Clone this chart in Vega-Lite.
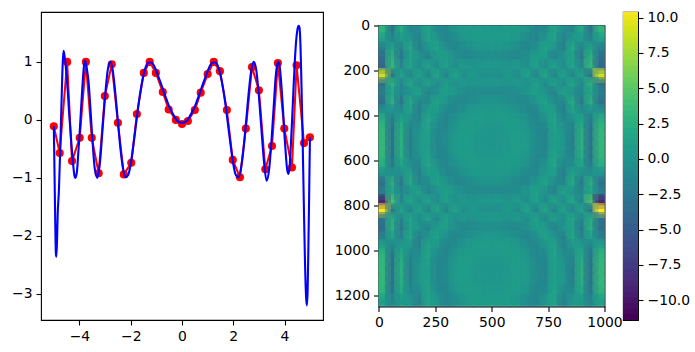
{"$schema":"https://vega.github.io/schema/vega-lite/v6.json","background":"white","padding":{"left":10,"top":10,"right":0,"bottom":0},"spacing":-16,"bounds":"full",
"config":{"view":{"stroke":"black","strokeWidth":1.1},"axis":{"grid":false,"title":null,"domain":false,"tickColor":"black","tickSize":5,"tickWidth":1.1,"labelColor":"black","labelFont":"DejaVu Sans","labelFontSize":13.9,"labelPadding":4,"labelFlush":false,"labelOverlap":false}},
"datasets":{"pts":[{"x":-5,"y":-0.11},{"x":-4.77,"y":-0.57},{"x":-4.48,"y":1},{"x":-4.29,"y":-0.71},{"x":-3.99,"y":-0.31},{"x":-3.75,"y":1},{"x":-3.52,"y":-0.31},{"x":-3.25,"y":-0.92},{"x":-3.01,"y":0.41},{"x":-2.74,"y":0.96},{"x":-2.5,"y":-0.05},{"x":-2.27,"y":-0.94},{"x":-1.98,"y":-0.74},{"x":-1.76,"y":0.1},{"x":-1.49,"y":0.81},{"x":-1.26,"y":1},{"x":-1.02,"y":0.81},{"x":-0.75,"y":0.48},{"x":-0.52,"y":0.18},{"x":-0.24,"y":0},{"x":0,"y":-0.07},{"x":0.23,"y":-0.02},{"x":0.5,"y":0.17},{"x":0.73,"y":0.47},{"x":1,"y":0.79},{"x":1.24,"y":1},{"x":1.48,"y":0.84},{"x":1.75,"y":0.17},{"x":1.98,"y":-0.69},{"x":2.26,"y":-0.99},{"x":2.49,"y":-0.15},{"x":2.73,"y":0.91},{"x":3,"y":0.51},{"x":3.25,"y":-0.85},{"x":3.51,"y":-0.45},{"x":3.74,"y":0.98},{"x":3.99,"y":-0.15},{"x":4.29,"y":-0.82},{"x":4.47,"y":0.94},{"x":4.76,"y":-0.4},{"x":4.99,"y":-0.3}],
"spline":[{"x":-5,"y":-0.11},{"x":-4.97,"y":-1},{"x":-4.95,"y":-1.6},{"x":-4.92,"y":-2.3},{"x":-4.9,"y":-2.36},{"x":-4.87,"y":-2},{"x":-4.85,"y":-1.65},{"x":-4.8,"y":-1.2},{"x":-4.75,"y":-0.5},{"x":-4.7,"y":0.3},{"x":-4.65,"y":1},{"x":-4.62,"y":1.19},{"x":-4.58,"y":1.1},{"x":-4.55,"y":1},{"x":-4.5,"y":0.75},{"x":-4.45,"y":0.45},{"x":-4.4,"y":0.1},{"x":-4.35,"y":-0.2},{"x":-4.3,"y":-0.5},{"x":-4.25,"y":-0.75},{"x":-4.2,"y":-0.95},{"x":-4.16,"y":-1},{"x":-4.1,"y":-0.9},{"x":-4.05,"y":-0.6},{"x":-4,"y":-0.28},{"x":-3.95,"y":0.1},{"x":-3.9,"y":0.47},{"x":-3.85,"y":0.8},{"x":-3.8,"y":1.02},{"x":-3.75,"y":0.97},{"x":-3.7,"y":0.85},{"x":-3.65,"y":0.68},{"x":-3.6,"y":0.39},{"x":-3.55,"y":0.04},{"x":-3.5,"y":-0.3},{"x":-3.4,"y":-0.85},{"x":-3.3,"y":-1},{"x":-3.2,"y":-0.73},{"x":-3.1,"y":-0.17},{"x":-3,"y":0.41},{"x":-2.9,"y":0.85},{"x":-2.8,"y":1},{"x":-2.7,"y":0.85},{"x":-2.6,"y":0.46},{"x":-2.5,"y":-0.03},{"x":-2.4,"y":-0.5},{"x":-2.3,"y":-0.84},{"x":-2.2,"y":-0.99},{"x":-2.1,"y":-0.95},{"x":-2,"y":-0.76},{"x":-1.9,"y":-0.45},{"x":-1.8,"y":-0.1},{"x":-1.7,"y":0.25},{"x":-1.6,"y":0.55},{"x":-1.5,"y":0.78},{"x":-1.4,"y":0.93},{"x":-1.3,"y":0.99},{"x":-1.2,"y":0.99},{"x":-1.1,"y":0.94},{"x":-1,"y":0.84},{"x":-0.9,"y":0.72},{"x":-0.8,"y":0.6},{"x":-0.7,"y":0.47},{"x":-0.6,"y":0.35},{"x":-0.5,"y":0.23},{"x":-0.4,"y":0.14},{"x":-0.3,"y":0.06},{"x":-0.2,"y":-0.01},{"x":-0.1,"y":-0.04},{"x":0,"y":-0.05},{"x":0.1,"y":-0.04},{"x":0.2,"y":-0.01},{"x":0.3,"y":0.06},{"x":0.4,"y":0.14},{"x":0.5,"y":0.23},{"x":0.6,"y":0.35},{"x":0.7,"y":0.47},{"x":0.8,"y":0.6},{"x":0.9,"y":0.72},{"x":1,"y":0.84},{"x":1.1,"y":0.94},{"x":1.2,"y":0.99},{"x":1.3,"y":0.99},{"x":1.4,"y":0.93},{"x":1.5,"y":0.78},{"x":1.6,"y":0.55},{"x":1.7,"y":0.25},{"x":1.8,"y":-0.1},{"x":1.9,"y":-0.45},{"x":2,"y":-0.76},{"x":2.1,"y":-0.95},{"x":2.2,"y":-0.99},{"x":2.3,"y":-0.84},{"x":2.4,"y":-0.5},{"x":2.5,"y":-0.03},{"x":2.6,"y":0.46},{"x":2.7,"y":0.85},{"x":2.8,"y":1},{"x":2.9,"y":0.85},{"x":3,"y":0.41},{"x":3.1,"y":-0.17},{"x":3.2,"y":-0.73},{"x":3.3,"y":-1.05},{"x":3.4,"y":-0.85},{"x":3.5,"y":-0.3},{"x":3.6,"y":0.39},{"x":3.65,"y":0.72},{"x":3.7,"y":0.92},{"x":3.75,"y":1},{"x":3.8,"y":0.95},{"x":3.85,"y":0.75},{"x":3.9,"y":0.45},{"x":3.95,"y":0.1},{"x":4,"y":-0.28},{"x":4.05,"y":-0.6},{"x":4.1,"y":-0.85},{"x":4.15,"y":-0.93},{"x":4.2,"y":-0.8},{"x":4.25,"y":-0.4},{"x":4.3,"y":0.05},{"x":4.35,"y":0.55},{"x":4.4,"y":1},{"x":4.45,"y":1.35},{"x":4.5,"y":1.55},{"x":4.55,"y":1.62},{"x":4.58,"y":1.6},{"x":4.62,"y":1.3},{"x":4.65,"y":0.8},{"x":4.7,"y":-0.2},{"x":4.75,"y":-1.4},{"x":4.8,"y":-2.5},{"x":4.84,"y":-3.05},{"x":4.87,"y":-3.2},{"x":4.9,"y":-2.95},{"x":4.93,"y":-2.2},{"x":4.96,"y":-1.3},{"x":4.99,"y":-0.3}],
"cb":[{"v":-11.4,"w":-10.8},{"v":-11,"w":-10.4},{"v":-10.6,"w":-10},{"v":-10.2,"w":-9.6},{"v":-9.8,"w":-9.2},{"v":-9.4,"w":-8.8},{"v":-9,"w":-8.4},{"v":-8.6,"w":-8},{"v":-8.2,"w":-7.6},{"v":-7.8,"w":-7.2},{"v":-7.4,"w":-6.8},{"v":-7,"w":-6.4},{"v":-6.6,"w":-6},{"v":-6.2,"w":-5.6},{"v":-5.8,"w":-5.2},{"v":-5.4,"w":-4.8},{"v":-5,"w":-4.4},{"v":-4.6,"w":-4},{"v":-4.2,"w":-3.6},{"v":-3.8,"w":-3.2},{"v":-3.4,"w":-2.8},{"v":-3,"w":-2.4},{"v":-2.6,"w":-2},{"v":-2.2,"w":-1.6},{"v":-1.8,"w":-1.2},{"v":-1.4,"w":-0.8},{"v":-1,"w":-0.4},{"v":-0.6,"w":0},{"v":-0.2,"w":0.4},{"v":0.2,"w":0.8},{"v":0.6,"w":1.2},{"v":1,"w":1.6},{"v":1.4,"w":2},{"v":1.8,"w":2.4},{"v":2.2,"w":2.8},{"v":2.6,"w":3.2},{"v":3,"w":3.6},{"v":3.4,"w":4},{"v":3.8,"w":4.4},{"v":4.2,"w":4.8},{"v":4.6,"w":5.2},{"v":5,"w":5.6},{"v":5.4,"w":6},{"v":5.8,"w":6.4},{"v":6.2,"w":6.8},{"v":6.6,"w":7.2},{"v":7,"w":7.6},{"v":7.4,"w":8},{"v":7.8,"w":8.4},{"v":8.2,"w":8.8},{"v":8.6,"w":9.2},{"v":9,"w":9.6},{"v":9.4,"w":10},{"v":9.8,"w":10.4},{"v":10.2,"w":10.4}],
"img":[
{"x":20,"y":20,"v":2.7},{"x":60,"y":20,"v":-3},{"x":100,"y":20,"v":1.8},{"x":140,"y":20,"v":-1.3},{"x":180,"y":20,"v":-0.9},{"x":220,"y":20,"v":1.3},{"x":260,"y":20,"v":-1},{"x":300,"y":20,"v":-1.4},{"x":340,"y":20,"v":-0.1},{"x":380,"y":20,"v":0.6},{"x":420,"y":20,"v":0.5},{"x":460,"y":20,"v":0.3},{"x":500,"y":20,"v":0.3},{"x":540,"y":20,"v":0.3},{"x":580,"y":20,"v":0.5},{"x":620,"y":20,"v":0.6},{"x":660,"y":20,"v":-0.1},{"x":700,"y":20,"v":-1.4},{"x":740,"y":20,"v":-1},{"x":780,"y":20,"v":1.3},{"x":820,"y":20,"v":-0.9},{"x":860,"y":20,"v":-1.3},{"x":900,"y":20,"v":1.8},{"x":940,"y":20,"v":-3},{"x":980,"y":20,"v":2.7},
{"x":20,"y":60,"v":1},{"x":60,"y":60,"v":-1.6},{"x":100,"y":60,"v":0.4},{"x":140,"y":60,"v":0.2},{"x":180,"y":60,"v":-1.9},{"x":220,"y":60,"v":1.2},{"x":260,"y":60,"v":0},{"x":300,"y":60,"v":-1.5},{"x":340,"y":60,"v":-0.9},{"x":380,"y":60,"v":0.1},{"x":420,"y":60,"v":0.5},{"x":460,"y":60,"v":0.5},{"x":500,"y":60,"v":0.5},{"x":540,"y":60,"v":0.5},{"x":580,"y":60,"v":0.5},{"x":620,"y":60,"v":0.1},{"x":660,"y":60,"v":-0.9},{"x":700,"y":60,"v":-1.5},{"x":740,"y":60,"v":0},{"x":780,"y":60,"v":1.2},{"x":820,"y":60,"v":-1.9},{"x":860,"y":60,"v":0.2},{"x":900,"y":60,"v":0.4},{"x":940,"y":60,"v":-1.6},{"x":980,"y":60,"v":1},
{"x":20,"y":100,"v":-2},{"x":60,"y":100,"v":1.1},{"x":100,"y":100,"v":-1.9},{"x":140,"y":100,"v":1.7},{"x":180,"y":100,"v":-2.1},{"x":220,"y":100,"v":-0.1},{"x":260,"y":100,"v":1},{"x":300,"y":100,"v":-0.7},{"x":340,"y":100,"v":-1.4},{"x":380,"y":100,"v":-0.8},{"x":420,"y":100,"v":-0.2},{"x":460,"y":100,"v":0.1},{"x":500,"y":100,"v":0.2},{"x":540,"y":100,"v":0.1},{"x":580,"y":100,"v":-0.2},{"x":620,"y":100,"v":-0.8},{"x":660,"y":100,"v":-1.4},{"x":700,"y":100,"v":-0.7},{"x":740,"y":100,"v":1},{"x":780,"y":100,"v":-0.1},{"x":820,"y":100,"v":-2.1},{"x":860,"y":100,"v":1.7},{"x":900,"y":100,"v":-1.9},{"x":940,"y":100,"v":1.1},{"x":980,"y":100,"v":-2},
{"x":20,"y":140,"v":-3.5},{"x":60,"y":140,"v":2.5},{"x":100,"y":140,"v":-2.7},{"x":140,"y":140,"v":1.1},{"x":180,"y":140,"v":-0.1},{"x":220,"y":140,"v":-1.8},{"x":260,"y":140,"v":0.6},{"x":300,"y":140,"v":0.7},{"x":340,"y":140,"v":-0.7},{"x":380,"y":140,"v":-1.2},{"x":420,"y":140,"v":-1.1},{"x":460,"y":140,"v":-0.8},{"x":500,"y":140,"v":-0.7},{"x":540,"y":140,"v":-0.8},{"x":580,"y":140,"v":-1.1},{"x":620,"y":140,"v":-1.2},{"x":660,"y":140,"v":-0.7},{"x":700,"y":140,"v":0.7},{"x":740,"y":140,"v":0.6},{"x":780,"y":140,"v":-1.8},{"x":820,"y":140,"v":-0.1},{"x":860,"y":140,"v":1.1},{"x":900,"y":140,"v":-2.7},{"x":940,"y":140,"v":2.5},{"x":980,"y":140,"v":-3.5},
{"x":20,"y":180,"v":-4},{"x":60,"y":180,"v":3},{"x":100,"y":180,"v":-1.5},{"x":140,"y":180,"v":1.4},{"x":180,"y":180,"v":-1},{"x":220,"y":180,"v":1.2},{"x":260,"y":180,"v":-1},{"x":300,"y":180,"v":1},{"x":340,"y":180,"v":-0.8},{"x":380,"y":180,"v":0.5},{"x":420,"y":180,"v":-0.2},{"x":460,"y":180,"v":0.2},{"x":500,"y":180,"v":0.1},{"x":540,"y":180,"v":0.2},{"x":580,"y":180,"v":-0.2},{"x":620,"y":180,"v":0.5},{"x":660,"y":180,"v":-0.8},{"x":700,"y":180,"v":1},{"x":740,"y":180,"v":-1},{"x":780,"y":180,"v":1.2},{"x":820,"y":180,"v":-1},{"x":860,"y":180,"v":1.4},{"x":900,"y":180,"v":-1.5},{"x":940,"y":180,"v":3},{"x":980,"y":180,"v":-4},
{"x":20,"y":220,"v":8.8},{"x":60,"y":220,"v":-3},{"x":100,"y":220,"v":1.2},{"x":140,"y":220,"v":-1.5},{"x":180,"y":220,"v":1},{"x":220,"y":220,"v":-1.5},{"x":260,"y":220,"v":1.5},{"x":300,"y":220,"v":-1.5},{"x":340,"y":220,"v":1.2},{"x":380,"y":220,"v":-0.8},{"x":420,"y":220,"v":0.4},{"x":460,"y":220,"v":-0.6},{"x":500,"y":220,"v":-0.3},{"x":540,"y":220,"v":-0.6},{"x":580,"y":220,"v":0.4},{"x":620,"y":220,"v":-0.8},{"x":660,"y":220,"v":1.2},{"x":700,"y":220,"v":-1.5},{"x":740,"y":220,"v":1.5},{"x":780,"y":220,"v":-1.5},{"x":820,"y":220,"v":1},{"x":860,"y":220,"v":-1.5},{"x":900,"y":220,"v":1.2},{"x":940,"y":220,"v":-3},{"x":980,"y":220,"v":8.8},
{"x":20,"y":260,"v":-3},{"x":60,"y":260,"v":2.5},{"x":100,"y":260,"v":-1.5},{"x":140,"y":260,"v":1.4},{"x":180,"y":260,"v":-1},{"x":220,"y":260,"v":1},{"x":260,"y":260,"v":-1},{"x":300,"y":260,"v":0.8},{"x":340,"y":260,"v":-0.6},{"x":380,"y":260,"v":0.3},{"x":420,"y":260,"v":-0.3},{"x":460,"y":260,"v":0.1},{"x":500,"y":260,"v":0},{"x":540,"y":260,"v":0.1},{"x":580,"y":260,"v":-0.3},{"x":620,"y":260,"v":0.3},{"x":660,"y":260,"v":-0.6},{"x":700,"y":260,"v":0.8},{"x":740,"y":260,"v":-1},{"x":780,"y":260,"v":1},{"x":820,"y":260,"v":-1},{"x":860,"y":260,"v":1.4},{"x":900,"y":260,"v":-1.5},{"x":940,"y":260,"v":2.5},{"x":980,"y":260,"v":-3},
{"x":20,"y":300,"v":-2.1},{"x":60,"y":300,"v":1.5},{"x":100,"y":300,"v":-1.4},{"x":140,"y":300,"v":-0.4},{"x":180,"y":300,"v":1.1},{"x":220,"y":300,"v":-1.9},{"x":260,"y":300,"v":-0.4},{"x":300,"y":300,"v":0.9},{"x":340,"y":300,"v":0.1},{"x":380,"y":300,"v":-0.8},{"x":420,"y":300,"v":-1.1},{"x":460,"y":300,"v":-1.1},{"x":500,"y":300,"v":-1.1},{"x":540,"y":300,"v":-1.1},{"x":580,"y":300,"v":-1.1},{"x":620,"y":300,"v":-0.8},{"x":660,"y":300,"v":0.1},{"x":700,"y":300,"v":0.9},{"x":740,"y":300,"v":-0.4},{"x":780,"y":300,"v":-1.9},{"x":820,"y":300,"v":1.1},{"x":860,"y":300,"v":-0.4},{"x":900,"y":300,"v":-1.4},{"x":940,"y":300,"v":1.5},{"x":980,"y":300,"v":-2.1},
{"x":20,"y":340,"v":-3.3},{"x":60,"y":340,"v":2.3},{"x":100,"y":340,"v":-2.8},{"x":140,"y":340,"v":1.9},{"x":180,"y":340,"v":-1.4},{"x":220,"y":340,"v":-1},{"x":260,"y":340,"v":1.1},{"x":300,"y":340,"v":0},{"x":340,"y":340,"v":-1.2},{"x":380,"y":340,"v":-1.2},{"x":420,"y":340,"v":-0.7},{"x":460,"y":340,"v":-0.3},{"x":500,"y":340,"v":-0.2},{"x":540,"y":340,"v":-0.3},{"x":580,"y":340,"v":-0.7},{"x":620,"y":340,"v":-1.2},{"x":660,"y":340,"v":-1.2},{"x":700,"y":340,"v":0},{"x":740,"y":340,"v":1.1},{"x":780,"y":340,"v":-1},{"x":820,"y":340,"v":-1.4},{"x":860,"y":340,"v":1.9},{"x":900,"y":340,"v":-2.8},{"x":940,"y":340,"v":2.3},{"x":980,"y":340,"v":-3.3},
{"x":20,"y":380,"v":-0.4},{"x":60,"y":380,"v":-0.4},{"x":100,"y":380,"v":-0.8},{"x":140,"y":380,"v":1.1},{"x":180,"y":380,"v":-2.2},{"x":220,"y":380,"v":0.7},{"x":260,"y":380,"v":0.6},{"x":300,"y":380,"v":-1.2},{"x":340,"y":380,"v":-1.2},{"x":380,"y":380,"v":-0.3},{"x":420,"y":380,"v":0.2},{"x":460,"y":380,"v":0.4},{"x":500,"y":380,"v":0.4},{"x":540,"y":380,"v":0.4},{"x":580,"y":380,"v":0.2},{"x":620,"y":380,"v":-0.3},{"x":660,"y":380,"v":-1.2},{"x":700,"y":380,"v":-1.2},{"x":740,"y":380,"v":0.6},{"x":780,"y":380,"v":0.7},{"x":820,"y":380,"v":-2.2},{"x":860,"y":380,"v":1.1},{"x":900,"y":380,"v":-0.8},{"x":940,"y":380,"v":-0.4},{"x":980,"y":380,"v":-0.4},
{"x":20,"y":420,"v":2.1},{"x":60,"y":420,"v":-2.5},{"x":100,"y":420,"v":1.3},{"x":140,"y":420,"v":-0.7},{"x":180,"y":420,"v":-1.4},{"x":220,"y":420,"v":1.4},{"x":260,"y":420,"v":-0.5},{"x":300,"y":420,"v":-1.5},{"x":340,"y":420,"v":-0.5},{"x":380,"y":420,"v":0.4},{"x":420,"y":420,"v":0.6},{"x":460,"y":420,"v":0.5},{"x":500,"y":420,"v":0.4},{"x":540,"y":420,"v":0.5},{"x":580,"y":420,"v":0.6},{"x":620,"y":420,"v":0.4},{"x":660,"y":420,"v":-0.5},{"x":700,"y":420,"v":-1.5},{"x":740,"y":420,"v":-0.5},{"x":780,"y":420,"v":1.4},{"x":820,"y":420,"v":-1.4},{"x":860,"y":420,"v":-0.7},{"x":900,"y":420,"v":1.3},{"x":940,"y":420,"v":-2.5},{"x":980,"y":420,"v":2.1},
{"x":20,"y":460,"v":2.9},{"x":60,"y":460,"v":-3.2},{"x":100,"y":460,"v":2.1},{"x":140,"y":460,"v":-1.8},{"x":180,"y":460,"v":-0.4},{"x":220,"y":460,"v":1.2},{"x":260,"y":460,"v":-1.3},{"x":300,"y":460,"v":-1.2},{"x":340,"y":460,"v":0.1},{"x":380,"y":460,"v":0.6},{"x":420,"y":460,"v":0.5},{"x":460,"y":460,"v":0.2},{"x":500,"y":460,"v":0.1},{"x":540,"y":460,"v":0.2},{"x":580,"y":460,"v":0.5},{"x":620,"y":460,"v":0.6},{"x":660,"y":460,"v":0.1},{"x":700,"y":460,"v":-1.2},{"x":740,"y":460,"v":-1.3},{"x":780,"y":460,"v":1.2},{"x":820,"y":460,"v":-0.4},{"x":860,"y":460,"v":-1.8},{"x":900,"y":460,"v":2.1},{"x":940,"y":460,"v":-3.2},{"x":980,"y":460,"v":2.9},
{"x":20,"y":500,"v":3},{"x":60,"y":500,"v":-3.2},{"x":100,"y":500,"v":2.3},{"x":140,"y":500,"v":-2.2},{"x":180,"y":500,"v":0.2},{"x":220,"y":500,"v":0.9},{"x":260,"y":500,"v":-1.5},{"x":300,"y":500,"v":-1},{"x":340,"y":500,"v":0.4},{"x":380,"y":500,"v":0.7},{"x":420,"y":500,"v":0.3},{"x":460,"y":500,"v":0},{"x":500,"y":500,"v":-0.1},{"x":540,"y":500,"v":0},{"x":580,"y":500,"v":0.3},{"x":620,"y":500,"v":0.7},{"x":660,"y":500,"v":0.4},{"x":700,"y":500,"v":-1},{"x":740,"y":500,"v":-1.5},{"x":780,"y":500,"v":0.9},{"x":820,"y":500,"v":0.2},{"x":860,"y":500,"v":-2.2},{"x":900,"y":500,"v":2.3},{"x":940,"y":500,"v":-3.2},{"x":980,"y":500,"v":3},
{"x":20,"y":540,"v":3},{"x":60,"y":540,"v":-3.2},{"x":100,"y":540,"v":2.3},{"x":140,"y":540,"v":-2.2},{"x":180,"y":540,"v":0.2},{"x":220,"y":540,"v":0.9},{"x":260,"y":540,"v":-1.5},{"x":300,"y":540,"v":-1},{"x":340,"y":540,"v":0.4},{"x":380,"y":540,"v":0.7},{"x":420,"y":540,"v":0.3},{"x":460,"y":540,"v":0},{"x":500,"y":540,"v":-0.1},{"x":540,"y":540,"v":0},{"x":580,"y":540,"v":0.3},{"x":620,"y":540,"v":0.7},{"x":660,"y":540,"v":0.4},{"x":700,"y":540,"v":-1},{"x":740,"y":540,"v":-1.5},{"x":780,"y":540,"v":0.9},{"x":820,"y":540,"v":0.2},{"x":860,"y":540,"v":-2.2},{"x":900,"y":540,"v":2.3},{"x":940,"y":540,"v":-3.2},{"x":980,"y":540,"v":3},
{"x":20,"y":580,"v":2.9},{"x":60,"y":580,"v":-3.2},{"x":100,"y":580,"v":2.1},{"x":140,"y":580,"v":-1.8},{"x":180,"y":580,"v":-0.4},{"x":220,"y":580,"v":1.2},{"x":260,"y":580,"v":-1.3},{"x":300,"y":580,"v":-1.2},{"x":340,"y":580,"v":0.1},{"x":380,"y":580,"v":0.6},{"x":420,"y":580,"v":0.5},{"x":460,"y":580,"v":0.2},{"x":500,"y":580,"v":0.1},{"x":540,"y":580,"v":0.2},{"x":580,"y":580,"v":0.5},{"x":620,"y":580,"v":0.6},{"x":660,"y":580,"v":0.1},{"x":700,"y":580,"v":-1.2},{"x":740,"y":580,"v":-1.3},{"x":780,"y":580,"v":1.2},{"x":820,"y":580,"v":-0.4},{"x":860,"y":580,"v":-1.8},{"x":900,"y":580,"v":2.1},{"x":940,"y":580,"v":-3.2},{"x":980,"y":580,"v":2.9},
{"x":20,"y":620,"v":2.1},{"x":60,"y":620,"v":-2.5},{"x":100,"y":620,"v":1.3},{"x":140,"y":620,"v":-0.7},{"x":180,"y":620,"v":-1.4},{"x":220,"y":620,"v":1.4},{"x":260,"y":620,"v":-0.5},{"x":300,"y":620,"v":-1.5},{"x":340,"y":620,"v":-0.5},{"x":380,"y":620,"v":0.4},{"x":420,"y":620,"v":0.6},{"x":460,"y":620,"v":0.5},{"x":500,"y":620,"v":0.4},{"x":540,"y":620,"v":0.5},{"x":580,"y":620,"v":0.6},{"x":620,"y":620,"v":0.4},{"x":660,"y":620,"v":-0.5},{"x":700,"y":620,"v":-1.5},{"x":740,"y":620,"v":-0.5},{"x":780,"y":620,"v":1.4},{"x":820,"y":620,"v":-1.4},{"x":860,"y":620,"v":-0.7},{"x":900,"y":620,"v":1.3},{"x":940,"y":620,"v":-2.5},{"x":980,"y":620,"v":2.1},
{"x":20,"y":660,"v":-0.4},{"x":60,"y":660,"v":-0.4},{"x":100,"y":660,"v":-0.8},{"x":140,"y":660,"v":1.1},{"x":180,"y":660,"v":-2.2},{"x":220,"y":660,"v":0.7},{"x":260,"y":660,"v":0.6},{"x":300,"y":660,"v":-1.2},{"x":340,"y":660,"v":-1.2},{"x":380,"y":660,"v":-0.3},{"x":420,"y":660,"v":0.2},{"x":460,"y":660,"v":0.4},{"x":500,"y":660,"v":0.4},{"x":540,"y":660,"v":0.4},{"x":580,"y":660,"v":0.2},{"x":620,"y":660,"v":-0.3},{"x":660,"y":660,"v":-1.2},{"x":700,"y":660,"v":-1.2},{"x":740,"y":660,"v":0.6},{"x":780,"y":660,"v":0.7},{"x":820,"y":660,"v":-2.2},{"x":860,"y":660,"v":1.1},{"x":900,"y":660,"v":-0.8},{"x":940,"y":660,"v":-0.4},{"x":980,"y":660,"v":-0.4},
{"x":20,"y":700,"v":-3.3},{"x":60,"y":700,"v":2.3},{"x":100,"y":700,"v":-2.8},{"x":140,"y":700,"v":1.9},{"x":180,"y":700,"v":-1.4},{"x":220,"y":700,"v":-1},{"x":260,"y":700,"v":1.1},{"x":300,"y":700,"v":0},{"x":340,"y":700,"v":-1.2},{"x":380,"y":700,"v":-1.2},{"x":420,"y":700,"v":-0.7},{"x":460,"y":700,"v":-0.3},{"x":500,"y":700,"v":-0.2},{"x":540,"y":700,"v":-0.3},{"x":580,"y":700,"v":-0.7},{"x":620,"y":700,"v":-1.2},{"x":660,"y":700,"v":-1.2},{"x":700,"y":700,"v":0},{"x":740,"y":700,"v":1.1},{"x":780,"y":700,"v":-1},{"x":820,"y":700,"v":-1.4},{"x":860,"y":700,"v":1.9},{"x":900,"y":700,"v":-2.8},{"x":940,"y":700,"v":2.3},{"x":980,"y":700,"v":-3.3},
{"x":20,"y":740,"v":-2.1},{"x":60,"y":740,"v":1.5},{"x":100,"y":740,"v":-1.4},{"x":140,"y":740,"v":-0.4},{"x":180,"y":740,"v":1.1},{"x":220,"y":740,"v":-1.9},{"x":260,"y":740,"v":-0.4},{"x":300,"y":740,"v":0.9},{"x":340,"y":740,"v":0.1},{"x":380,"y":740,"v":-0.8},{"x":420,"y":740,"v":-1.1},{"x":460,"y":740,"v":-1.1},{"x":500,"y":740,"v":-1.1},{"x":540,"y":740,"v":-1.1},{"x":580,"y":740,"v":-1.1},{"x":620,"y":740,"v":-0.8},{"x":660,"y":740,"v":0.1},{"x":700,"y":740,"v":0.9},{"x":740,"y":740,"v":-0.4},{"x":780,"y":740,"v":-1.9},{"x":820,"y":740,"v":1.1},{"x":860,"y":740,"v":-0.4},{"x":900,"y":740,"v":-1.4},{"x":940,"y":740,"v":1.5},{"x":980,"y":740,"v":-2.1},
{"x":20,"y":780,"v":-9},{"x":60,"y":780,"v":4},{"x":100,"y":780,"v":-1.5},{"x":140,"y":780,"v":1.5},{"x":180,"y":780,"v":-0.8},{"x":220,"y":780,"v":1.2},{"x":260,"y":780,"v":-1},{"x":300,"y":780,"v":1},{"x":340,"y":780,"v":-0.8},{"x":380,"y":780,"v":0.6},{"x":420,"y":780,"v":-0.2},{"x":460,"y":780,"v":0.3},{"x":500,"y":780,"v":0.2},{"x":540,"y":780,"v":0.3},{"x":580,"y":780,"v":-0.2},{"x":620,"y":780,"v":0.6},{"x":660,"y":780,"v":-0.8},{"x":700,"y":780,"v":1},{"x":740,"y":780,"v":-1},{"x":780,"y":780,"v":1.2},{"x":820,"y":780,"v":-0.8},{"x":860,"y":780,"v":1.5},{"x":900,"y":780,"v":-1.5},{"x":940,"y":780,"v":4},{"x":980,"y":780,"v":-9},
{"x":20,"y":820,"v":10.2},{"x":60,"y":820,"v":-3},{"x":100,"y":820,"v":1.2},{"x":140,"y":820,"v":-1.5},{"x":180,"y":820,"v":1},{"x":220,"y":820,"v":-1.5},{"x":260,"y":820,"v":1.5},{"x":300,"y":820,"v":-1.5},{"x":340,"y":820,"v":1.2},{"x":380,"y":820,"v":-0.8},{"x":420,"y":820,"v":0.4},{"x":460,"y":820,"v":-0.6},{"x":500,"y":820,"v":-0.3},{"x":540,"y":820,"v":-0.6},{"x":580,"y":820,"v":0.4},{"x":620,"y":820,"v":-0.8},{"x":660,"y":820,"v":1.2},{"x":700,"y":820,"v":-1.5},{"x":740,"y":820,"v":1.5},{"x":780,"y":820,"v":-1.5},{"x":820,"y":820,"v":1},{"x":860,"y":820,"v":-1.5},{"x":900,"y":820,"v":1.2},{"x":940,"y":820,"v":-3},{"x":980,"y":820,"v":10.2},
{"x":20,"y":860,"v":-3},{"x":60,"y":860,"v":2},{"x":100,"y":860,"v":-1.5},{"x":140,"y":860,"v":1.5},{"x":180,"y":860,"v":-1},{"x":220,"y":860,"v":1},{"x":260,"y":860,"v":-1.2},{"x":300,"y":860,"v":1},{"x":340,"y":860,"v":-0.8},{"x":380,"y":860,"v":0.4},{"x":420,"y":860,"v":-0.4},{"x":460,"y":860,"v":0.2},{"x":500,"y":860,"v":0.1},{"x":540,"y":860,"v":0.2},{"x":580,"y":860,"v":-0.4},{"x":620,"y":860,"v":0.4},{"x":660,"y":860,"v":-0.8},{"x":700,"y":860,"v":1},{"x":740,"y":860,"v":-1.2},{"x":780,"y":860,"v":1},{"x":820,"y":860,"v":-1},{"x":860,"y":860,"v":1.5},{"x":900,"y":860,"v":-1.5},{"x":940,"y":860,"v":2},{"x":980,"y":860,"v":-3},
{"x":20,"y":900,"v":-3.5},{"x":60,"y":900,"v":2.5},{"x":100,"y":900,"v":-2.7},{"x":140,"y":900,"v":1.1},{"x":180,"y":900,"v":-0.1},{"x":220,"y":900,"v":-1.8},{"x":260,"y":900,"v":0.6},{"x":300,"y":900,"v":0.7},{"x":340,"y":900,"v":-0.7},{"x":380,"y":900,"v":-1.2},{"x":420,"y":900,"v":-1.1},{"x":460,"y":900,"v":-0.8},{"x":500,"y":900,"v":-0.7},{"x":540,"y":900,"v":-0.8},{"x":580,"y":900,"v":-1.1},{"x":620,"y":900,"v":-1.2},{"x":660,"y":900,"v":-0.7},{"x":700,"y":900,"v":0.7},{"x":740,"y":900,"v":0.6},{"x":780,"y":900,"v":-1.8},{"x":820,"y":900,"v":-0.1},{"x":860,"y":900,"v":1.1},{"x":900,"y":900,"v":-2.7},{"x":940,"y":900,"v":2.5},{"x":980,"y":900,"v":-3.5},
{"x":20,"y":940,"v":-2},{"x":60,"y":940,"v":1.1},{"x":100,"y":940,"v":-1.9},{"x":140,"y":940,"v":1.7},{"x":180,"y":940,"v":-2.1},{"x":220,"y":940,"v":-0.1},{"x":260,"y":940,"v":1},{"x":300,"y":940,"v":-0.7},{"x":340,"y":940,"v":-1.4},{"x":380,"y":940,"v":-0.8},{"x":420,"y":940,"v":-0.2},{"x":460,"y":940,"v":0.1},{"x":500,"y":940,"v":0.2},{"x":540,"y":940,"v":0.1},{"x":580,"y":940,"v":-0.2},{"x":620,"y":940,"v":-0.8},{"x":660,"y":940,"v":-1.4},{"x":700,"y":940,"v":-0.7},{"x":740,"y":940,"v":1},{"x":780,"y":940,"v":-0.1},{"x":820,"y":940,"v":-2.1},{"x":860,"y":940,"v":1.7},{"x":900,"y":940,"v":-1.9},{"x":940,"y":940,"v":1.1},{"x":980,"y":940,"v":-2},
{"x":20,"y":980,"v":1},{"x":60,"y":980,"v":-1.6},{"x":100,"y":980,"v":0.4},{"x":140,"y":980,"v":0.2},{"x":180,"y":980,"v":-1.9},{"x":220,"y":980,"v":1.2},{"x":260,"y":980,"v":0},{"x":300,"y":980,"v":-1.5},{"x":340,"y":980,"v":-0.9},{"x":380,"y":980,"v":0.1},{"x":420,"y":980,"v":0.5},{"x":460,"y":980,"v":0.5},{"x":500,"y":980,"v":0.5},{"x":540,"y":980,"v":0.5},{"x":580,"y":980,"v":0.5},{"x":620,"y":980,"v":0.1},{"x":660,"y":980,"v":-0.9},{"x":700,"y":980,"v":-1.5},{"x":740,"y":980,"v":0},{"x":780,"y":980,"v":1.2},{"x":820,"y":980,"v":-1.9},{"x":860,"y":980,"v":0.2},{"x":900,"y":980,"v":0.4},{"x":940,"y":980,"v":-1.6},{"x":980,"y":980,"v":1},
{"x":20,"y":1020,"v":2.7},{"x":60,"y":1020,"v":-3},{"x":100,"y":1020,"v":1.8},{"x":140,"y":1020,"v":-1.3},{"x":180,"y":1020,"v":-0.9},{"x":220,"y":1020,"v":1.3},{"x":260,"y":1020,"v":-1},{"x":300,"y":1020,"v":-1.4},{"x":340,"y":1020,"v":-0.1},{"x":380,"y":1020,"v":0.6},{"x":420,"y":1020,"v":0.5},{"x":460,"y":1020,"v":0.3},{"x":500,"y":1020,"v":0.3},{"x":540,"y":1020,"v":0.3},{"x":580,"y":1020,"v":0.5},{"x":620,"y":1020,"v":0.6},{"x":660,"y":1020,"v":-0.1},{"x":700,"y":1020,"v":-1.4},{"x":740,"y":1020,"v":-1},{"x":780,"y":1020,"v":1.3},{"x":820,"y":1020,"v":-0.9},{"x":860,"y":1020,"v":-1.3},{"x":900,"y":1020,"v":1.8},{"x":940,"y":1020,"v":-3},{"x":980,"y":1020,"v":2.7},
{"x":20,"y":1060,"v":3},{"x":60,"y":1060,"v":-3.2},{"x":100,"y":1060,"v":2.2},{"x":140,"y":1060,"v":-2},{"x":180,"y":1060,"v":0},{"x":220,"y":1060,"v":1},{"x":260,"y":1060,"v":-1.4},{"x":300,"y":1060,"v":-1.1},{"x":340,"y":1060,"v":0.3},{"x":380,"y":1060,"v":0.7},{"x":420,"y":1060,"v":0.4},{"x":460,"y":1060,"v":0.1},{"x":500,"y":1060,"v":0},{"x":540,"y":1060,"v":0.1},{"x":580,"y":1060,"v":0.4},{"x":620,"y":1060,"v":0.7},{"x":660,"y":1060,"v":0.3},{"x":700,"y":1060,"v":-1.1},{"x":740,"y":1060,"v":-1.4},{"x":780,"y":1060,"v":1},{"x":820,"y":1060,"v":0},{"x":860,"y":1060,"v":-2},{"x":900,"y":1060,"v":2.2},{"x":940,"y":1060,"v":-3.2},{"x":980,"y":1060,"v":3},
{"x":20,"y":1100,"v":3},{"x":60,"y":1100,"v":-3.2},{"x":100,"y":1100,"v":2.3},{"x":140,"y":1100,"v":-2.2},{"x":180,"y":1100,"v":0.2},{"x":220,"y":1100,"v":0.9},{"x":260,"y":1100,"v":-1.5},{"x":300,"y":1100,"v":-1},{"x":340,"y":1100,"v":0.4},{"x":380,"y":1100,"v":0.7},{"x":420,"y":1100,"v":0.3},{"x":460,"y":1100,"v":0},{"x":500,"y":1100,"v":-0.1},{"x":540,"y":1100,"v":0},{"x":580,"y":1100,"v":0.3},{"x":620,"y":1100,"v":0.7},{"x":660,"y":1100,"v":0.4},{"x":700,"y":1100,"v":-1},{"x":740,"y":1100,"v":-1.5},{"x":780,"y":1100,"v":0.9},{"x":820,"y":1100,"v":0.2},{"x":860,"y":1100,"v":-2.2},{"x":900,"y":1100,"v":2.3},{"x":940,"y":1100,"v":-3.2},{"x":980,"y":1100,"v":3},
{"x":20,"y":1140,"v":3},{"x":60,"y":1140,"v":-3.2},{"x":100,"y":1140,"v":2.2},{"x":140,"y":1140,"v":-2},{"x":180,"y":1140,"v":0},{"x":220,"y":1140,"v":1},{"x":260,"y":1140,"v":-1.4},{"x":300,"y":1140,"v":-1.1},{"x":340,"y":1140,"v":0.3},{"x":380,"y":1140,"v":0.7},{"x":420,"y":1140,"v":0.4},{"x":460,"y":1140,"v":0.1},{"x":500,"y":1140,"v":0},{"x":540,"y":1140,"v":0.1},{"x":580,"y":1140,"v":0.4},{"x":620,"y":1140,"v":0.7},{"x":660,"y":1140,"v":0.3},{"x":700,"y":1140,"v":-1.1},{"x":740,"y":1140,"v":-1.4},{"x":780,"y":1140,"v":1},{"x":820,"y":1140,"v":0},{"x":860,"y":1140,"v":-2},{"x":900,"y":1140,"v":2.2},{"x":940,"y":1140,"v":-3.2},{"x":980,"y":1140,"v":3},
{"x":20,"y":1180,"v":2.7},{"x":60,"y":1180,"v":-3},{"x":100,"y":1180,"v":1.8},{"x":140,"y":1180,"v":-1.3},{"x":180,"y":1180,"v":-0.9},{"x":220,"y":1180,"v":1.3},{"x":260,"y":1180,"v":-1},{"x":300,"y":1180,"v":-1.4},{"x":340,"y":1180,"v":-0.1},{"x":380,"y":1180,"v":0.6},{"x":420,"y":1180,"v":0.5},{"x":460,"y":1180,"v":0.3},{"x":500,"y":1180,"v":0.3},{"x":540,"y":1180,"v":0.3},{"x":580,"y":1180,"v":0.5},{"x":620,"y":1180,"v":0.6},{"x":660,"y":1180,"v":-0.1},{"x":700,"y":1180,"v":-1.4},{"x":740,"y":1180,"v":-1},{"x":780,"y":1180,"v":1.3},{"x":820,"y":1180,"v":-0.9},{"x":860,"y":1180,"v":-1.3},{"x":900,"y":1180,"v":1.8},{"x":940,"y":1180,"v":-3},{"x":980,"y":1180,"v":2.7},
{"x":20,"y":1220,"v":1},{"x":60,"y":1220,"v":-1.6},{"x":100,"y":1220,"v":0.4},{"x":140,"y":1220,"v":0.2},{"x":180,"y":1220,"v":-1.9},{"x":220,"y":1220,"v":1.2},{"x":260,"y":1220,"v":0},{"x":300,"y":1220,"v":-1.5},{"x":340,"y":1220,"v":-0.9},{"x":380,"y":1220,"v":0.1},{"x":420,"y":1220,"v":0.5},{"x":460,"y":1220,"v":0.5},{"x":500,"y":1220,"v":0.5},{"x":540,"y":1220,"v":0.5},{"x":580,"y":1220,"v":0.5},{"x":620,"y":1220,"v":0.1},{"x":660,"y":1220,"v":-0.9},{"x":700,"y":1220,"v":-1.5},{"x":740,"y":1220,"v":0},{"x":780,"y":1220,"v":1.2},{"x":820,"y":1220,"v":-1.9},{"x":860,"y":1220,"v":0.2},{"x":900,"y":1220,"v":0.4},{"x":940,"y":1220,"v":-1.6},{"x":980,"y":1220,"v":1}
]},
"hconcat":[
{"spacing":55.5,"center":true,"bounds":"flush","hconcat":[
{"width":282,"height":308,"layer":[
{"data":{"name":"pts"},"mark":{"type":"point","filled":true,"color":"red","size":66,"opacity":1},"encoding":{"x":{"field":"x","type":"quantitative","scale":{"domain":[-5.5,5.5],"nice":false},"axis":{"values":[-4,-2,0,2,4],"format":"d"}},"y":{"field":"y","type":"quantitative","scale":{"domain":[-3.45,1.86],"nice":false},"axis":{"values":[-3,-2,-1,0,1],"format":"d"}}}},
{"data":{"name":"pts"},"mark":{"type":"line","color":"red","strokeWidth":2},"encoding":{"x":{"field":"x","type":"quantitative"},"y":{"field":"y","type":"quantitative"}}},
{"data":{"name":"spline"},"mark":{"type":"line","color":"blue","strokeWidth":2.1,"interpolate":"monotone"},"encoding":{"x":{"field":"x","type":"quantitative"},"y":{"field":"y","type":"quantitative"}}}
]},
{"width":226,"height":281,"data":{"name":"img"},"encoding":{"x":{"field":"x","type":"quantitative","scale":{"domain":[-2,1000],"nice":false},"axis":{"values":[0,250,500,750,1000],"format":"d"}},"y":{"field":"y","type":"quantitative","scale":{"domain":[1247,-2],"nice":false},"axis":{"values":[0,200,400,600,800,1000,1200],"format":"d"}},"fill":{"field":"v","type":"quantitative","legend":null,"scale":{"scheme":"viridis","domain":[-11.4,10.4]}}},
"layer":[{"mark":{"type":"rect","width":9.6,"height":10.5,"clip":true}},{"mark":{"type":"rect","width":15,"height":15,"clip":true,"opacity":0.5}}]}
]},
{"width":15,"height":308,"data":{"name":"cb"},"mark":{"type":"rect","clip":true},"encoding":{"y":{"field":"v","type":"quantitative","scale":{"domain":[-11.4,10.4],"nice":false},"axis":{"orient":"right","values":[-10,-7.5,-5,-2.5,0,2.5,5,7.5,10],"format":".1f"}},"y2":{"field":"w"},"fill":{"field":"v","type":"quantitative","legend":null,"scale":{"scheme":"viridis","domain":[-11.4,10.4]}}}}
]}
